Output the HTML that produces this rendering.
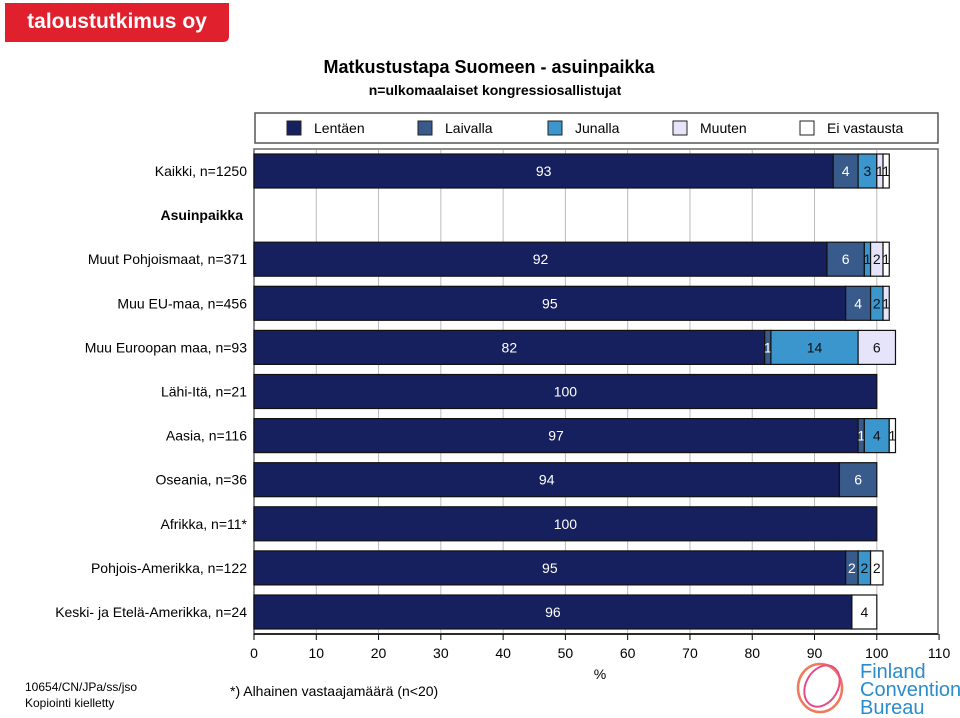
<!DOCTYPE html>
<html><head><meta charset="utf-8"><style>
body{margin:0;background:#fff;width:960px;height:718px;overflow:hidden;font-family:"Liberation Sans",Arial,sans-serif}
svg{display:block}
</style></head><body>
<svg id="c" width="960" height="718" xmlns="http://www.w3.org/2000/svg" font-family="Liberation Sans, Arial, sans-serif">
<g>
<path d="M5 3 H229 V36 Q229 42 223 42 H5 Z" fill="#e1202e"/>
<text x="117" y="28" text-anchor="middle" fill="#fff" font-size="21" font-weight="bold">taloustutkimus oy</text>
</g>
<text x="489" y="73" text-anchor="middle" font-size="18" font-weight="bold">Matkustustapa Suomeen - asuinpaikka</text>
<text x="495" y="95" text-anchor="middle" font-size="14" font-weight="bold">n=ulkomaalaiset kongressiosallistujat</text>
<g id="legend">
<rect x="255" y="113" width="683" height="30" fill="#fff" stroke="#555" stroke-width="1.5"/>
</g>
<rect x="254" y="149" width="684" height="485" fill="#fff" stroke="#666" stroke-width="1.5"/>
<g id="grid"></g>
<g id="bars"></g>
<g id="ylabels"></g>
<g id="axis"></g>
<text x="600" y="679" text-anchor="middle" font-size="14">%</text>
<text x="230" y="696" font-size="14">*) Alhainen vastaajamäärä (n&lt;20)</text>
<text x="25" y="691" font-size="12">10654/CN/JPa/ss/jso</text>
<text x="25" y="707" font-size="12">Kopiointi kielletty</text>
<g>
<ellipse cx="820" cy="688" rx="22" ry="24" fill="none" stroke="#f07a5a" stroke-width="2.5"/>
<ellipse cx="822" cy="686" rx="16" ry="22" fill="none" stroke="#e84a8a" stroke-width="2" transform="rotate(30 822 686)"/>
<text x="860" y="678" font-size="20" fill="#2a8ccc">Finland</text>
<text x="860" y="696" font-size="20" fill="#2a8ccc">Convention</text>
<text x="860" y="714" font-size="20" fill="#2a8ccc">Bureau</text>
</g>
</svg>
<script>
const categories=["Kaikki, n=1250","","Muut Pohjoismaat, n=371","Muu EU-maa, n=456","Muu Euroopan maa, n=93","Lähi-Itä, n=21","Aasia, n=116","Oseania, n=36","Afrikka, n=11*","Pohjois-Amerikka, n=122","Keski- ja Etelä-Amerikka, n=24"];
const seriesNames=["Lentäen","Laivalla","Junalla","Muuten","Ei vastausta"];
const lentaen=[93,null,92,95,82,100,97,94,100,95,96];
const laivalla=[4,null,6,4,1,0,1,6,0,2,0];
const junalla=[3,null,1,2,14,0,4,0,0,2,0];
const muuten=[1,null,2,1,6,0,0,0,0,0,0];
const eiVastausta=[1,null,1,0,0,0,1,0,0,2,4];
const xTicks=[0,10,20,30,40,50,60,70,80,90,100,110];
const colors=["#17205e","#395b8c","#3a96cc","#e6e4fa","#ffffff"];
const textColors=["#fff","#fff","#111","#111","#111"];
const series=[lentaen,laivalla,junalla,muuten,eiVastausta];
const NS="http://www.w3.org/2000/svg";
const x=v=>254+v*6.228;
const yc=i=>171+i*44.1;
function mk(tag,attrs,parent){const e=document.createElementNS(NS,tag);for(const k in attrs)e.setAttribute(k,attrs[k]);parent.appendChild(e);return e;}
const grid=document.getElementById('grid'),bars=document.getElementById('bars'),yl=document.getElementById('ylabels'),ax=document.getElementById('axis'),lg=document.getElementById('legend');
xTicks.forEach(t=>{
 if(t>0&&t<110){const l=mk('line',{x1:x(t),x2:x(t),y1:150,y2:633,stroke:'#bbb','stroke-width':1},grid);
 
 }
 const tk=mk('line',{x1:x(t),x2:x(t),y1:634,y2:640,stroke:'#000'},ax);
 
 
 const tl=mk('text',{x:x(t),y:658,'text-anchor':'middle','font-size':14},ax);tl.textContent=t;
 
 
});
const axl=mk('line',{x1:254,x2:938,y1:634,y2:634,stroke:'#000','stroke-width':1.5},ax);


const lx=[287,418,548,673,800];
seriesNames.forEach((n,i)=>{
 const r=mk('rect',{x:lx[i],y:121,width:14,height:14,fill:colors[i],stroke:'#222'},lg);
 
 
 const t=mk('text',{x:lx[i]+27,y:133,'font-size':14},lg);t.textContent=n;
 
 
});
const yh=mk('text',{x:243,y:220,'text-anchor':'end','font-size':14,'font-weight':'bold'},yl);yh.textContent="Asuinpaikka";


categories.forEach((c,i)=>{
 if(!c)return;
 const t=mk('text',{x:247,y:yc(i)+5,'text-anchor':'end','font-size':14},yl);t.textContent=c;
 
 
 let cum=0;
 series.forEach((s,k)=>{
  const v=s[i];if(!v)return;
  const r=mk('rect',{x:x(cum),y:yc(i)-17,width:x(cum+v)-x(cum),height:34,fill:colors[k],stroke:'#111','stroke-width':1.2},bars);
  
  
  const tt=mk('text',{x:(x(cum)+x(cum+v))/2,y:yc(i)+5,'text-anchor':'middle','font-size':14,fill:textColors[k]},bars);tt.textContent=v;
  
  
  cum+=v;
 });
});
</script>
</body></html>
